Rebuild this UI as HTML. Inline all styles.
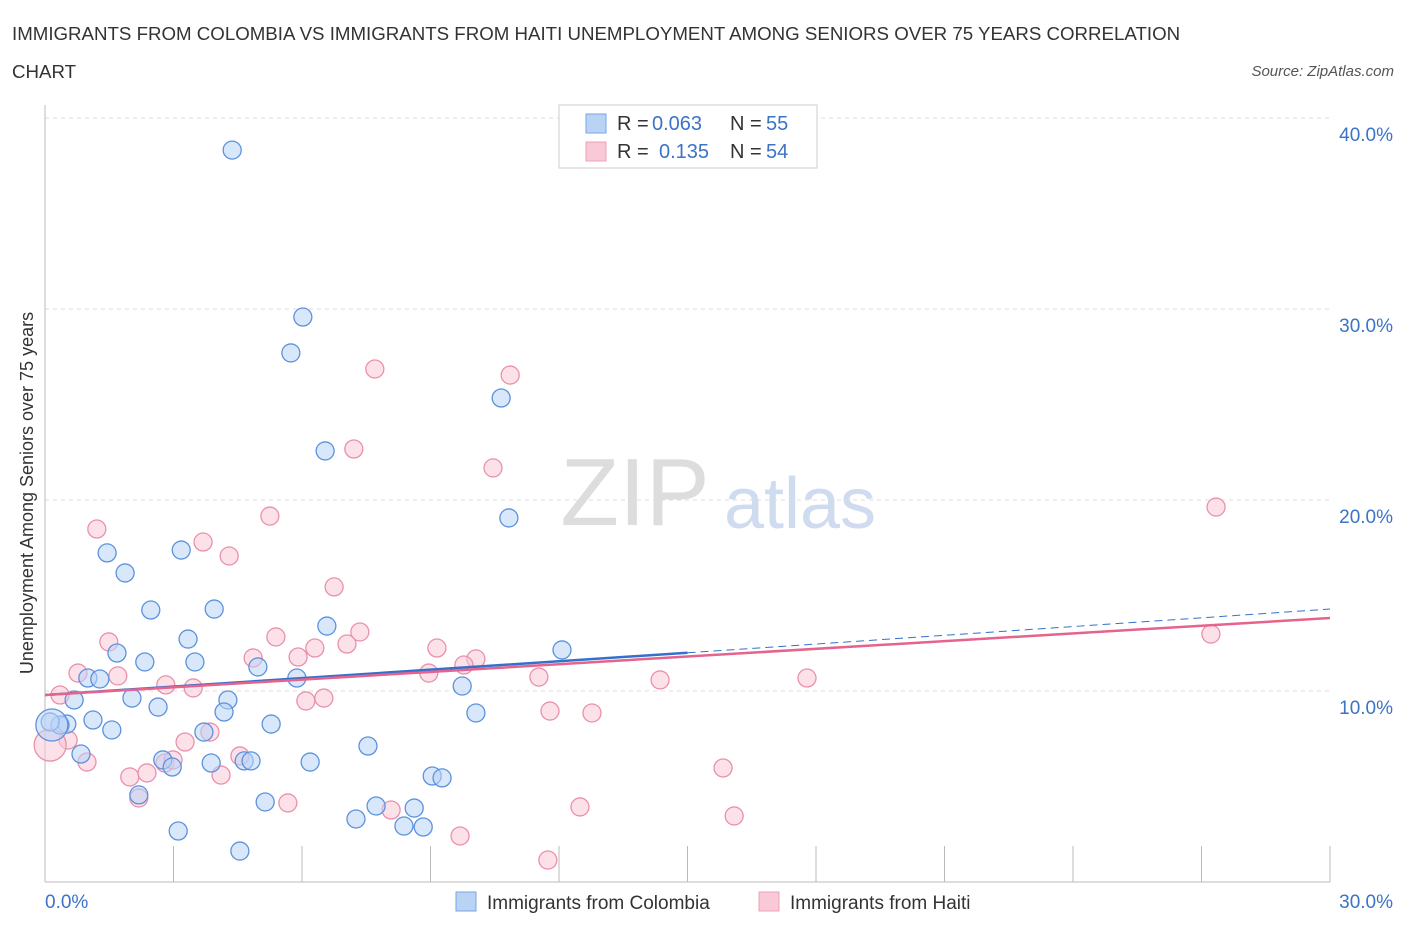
<!DOCTYPE html>
<html><head><meta charset="utf-8"><style>
body{margin:0;background:#fff;font-family:"Liberation Sans",sans-serif;}
svg text{font-family:"Liberation Sans",sans-serif;}
</style></head><body>
<svg id="chart" width="1406" height="930">
<text x="12" y="40" font-size="18.7" fill="#333">IMMIGRANTS FROM COLOMBIA VS IMMIGRANTS FROM HAITI UNEMPLOYMENT AMONG SENIORS OVER 75 YEARS CORRELATION</text>
<text x="12" y="78" font-size="18.7" fill="#333">CHART</text>
<text x="1394" y="76" font-size="15" fill="#555" font-style="italic" text-anchor="end">Source: ZipAtlas.com</text>
<text x="635" y="525" font-size="96" fill="#ddd" font-family="Liberation Serif" text-anchor="middle">ZIP</text>
<text x="800" y="528" font-size="72" fill="#cfdcf0" text-anchor="middle">atlas</text>
<g id="grid"></g><g id="axes"></g><g id="pts"></g><g id="lines"></g>
<text x="33" y="493" font-size="18" fill="#333" text-anchor="middle" transform="rotate(-90 33 493)">Unemployment Among Seniors over 75 years</text>
<g>
<rect x="559" y="105" width="258" height="63" fill="#fff" stroke="#ccc"/>
<rect x="586" y="114" width="20" height="19" fill="#b9d3f5" stroke="#7aa6e3"/>
<rect x="586" y="142" width="20" height="19" fill="#f9c9d7" stroke="#eda0b6"/>
<text x="617" y="130" font-size="20" fill="#333">R =</text>
<text x="652" y="130" font-size="20" fill="#3b73c7">0.063</text>
<text x="730" y="130" font-size="20" fill="#333">N =</text>
<text x="766" y="130" font-size="20" fill="#3b73c7">55</text>
<text x="617" y="158" font-size="20" fill="#333">R =</text>
<text x="659" y="158" font-size="20" fill="#3b73c7">0.135</text>
<text x="730" y="158" font-size="20" fill="#333">N =</text>
<text x="766" y="158" font-size="20" fill="#3b73c7">54</text>
</g>
<g>
<rect x="456" y="892" width="20" height="19" fill="#b9d3f5" stroke="#7aa6e3"/>
<text x="487" y="909" font-size="19" fill="#333">Immigrants from Colombia</text>
<rect x="759" y="892" width="20" height="19" fill="#f9c9d7" stroke="#eda0b6"/>
<text x="790" y="909" font-size="19" fill="#333">Immigrants from Haiti</text>
</g>
</svg>
<script>
const yTicks=[10,20,30,40];
const yTickLabels=["10.0%","20.0%","30.0%","40.0%"];
const xTickCount=10;
const colX=[4.37,6.02,5.74,10.65,6.54,10.83,1.45,1.87,3.18,2.47,3.95,3.34,6.58,12.07,1.68,2.33,3.50,4.97,1.00,1.28,5.88,9.74,0.68,2.03,4.27,2.64,4.18,10.06,1.12,0.51,0.35,0.12,5.28,1.56,3.71,7.54,0.84,2.75,2.97,3.88,4.65,4.81,6.19,9.04,9.27,2.19,5.14,7.73,8.62,7.26,8.38,8.83,3.11,4.55,0.16];
const colY=[38.32,29.58,27.70,25.34,22.57,19.06,17.23,16.18,17.38,14.24,14.29,12.72,13.40,12.15,11.99,11.52,11.52,11.26,10.68,10.63,10.68,10.26,9.53,9.63,9.53,9.16,8.90,8.85,8.48,8.27,8.22,8.38,8.27,7.96,7.85,7.12,6.70,6.39,6.02,6.23,6.34,6.34,6.28,5.55,5.45,4.56,4.19,3.98,3.87,3.30,2.93,2.88,2.67,1.62,8.22];
const haiX=[7.70,10.86,7.21,10.46,27.34,5.25,1.21,3.69,4.30,6.75,27.22,1.49,5.39,7.35,9.15,6.30,4.86,5.91,7.05,10.06,9.78,0.77,1.70,8.96,11.53,14.36,17.79,2.82,3.46,0.35,6.09,6.51,11.79,12.77,3.85,3.27,0.54,4.55,0.98,2.80,2.99,1.98,2.38,4.11,15.83,5.67,2.19,8.08,12.49,16.09,9.69,11.74,0.12];
const haiY=[26.86,26.54,22.67,21.68,19.63,19.16,18.48,17.80,17.07,15.45,12.98,12.57,12.83,13.09,12.25,12.25,11.73,11.78,12.46,11.68,11.36,10.94,10.79,10.94,10.73,10.58,10.68,10.32,10.16,9.79,9.48,9.63,8.95,8.85,7.85,7.33,7.43,6.60,6.28,6.23,6.39,5.50,5.71,5.60,5.97,4.14,4.40,3.77,3.93,3.46,2.41,1.15,7.17];
const colTrend=[9.79,12.0,14.29];
const haiTrend=[9.79,13.82];
const NS='http://www.w3.org/2000/svg';
const X=v=>45+v/30*1285, Y=v=>882-v/10*191;
function mk(t,a,p){const e=document.createElementNS(NS,t);for(const k in a)e.setAttribute(k,a[k]);document.getElementById(p).appendChild(e);return e;}
yTicks.forEach((t,i)=>{
 const g=mk('line',{x1:45,x2:1330,y1:Y(t),y2:Y(t),stroke:'#ddd','stroke-dasharray':'4,4'},'grid');
 
 
 const l=mk('text',{x:1393,y:Y(t)+23,'font-size':19,fill:'#3b73c7','text-anchor':'end'},'axes');l.textContent=yTickLabels[i];
 
 
});
const ax=mk('line',{x1:45,x2:45,y1:105,y2:882,stroke:'#bbb'},'axes');


const bx=mk('line',{x1:45,x2:1330,y1:882,y2:882,stroke:'#bbb'},'axes');


for(let i=0;i<=xTickCount;i++){const t=mk('line',{x1:X(i*3),x2:X(i*3),y1:846,y2:882,stroke:'#bbb'},'axes');
 
 }
[["0.0%",45,'start'],["30.0%",1393,'end']].forEach(a=>{const l=mk('text',{x:a[1],y:908,'font-size':19,fill:'#3b73c7','text-anchor':a[2]},'axes');l.textContent=a[0];
 
 });
function pts(xs,ys,fill,stroke,name){xs.forEach((x,i)=>{const big=i==xs.length-1;
 const c=mk('circle',{cx:X(x),cy:Y(ys[i]),r:big?16:9,fill:fill,'fill-opacity':0.55,stroke:stroke,'stroke-width':1.3},'pts');
 
 });}
pts(haiX,haiY,'#f9c9d7','#eb90aa','haiti-point');
pts(colX,colY,'#b9d3f5','#5c92dd','colombia-point');
let l1=mk('line',{x1:X(0),y1:Y(colTrend[0]),x2:X(15),y2:Y(colTrend[1]),stroke:'#3570cc','stroke-width':2.5},'lines');


let l2=mk('line',{x1:X(15),y1:Y(colTrend[1]),x2:X(30),y2:Y(colTrend[2]),stroke:'#3570cc','stroke-width':1,'stroke-dasharray':'8,5'},'lines');


let l3=mk('line',{x1:X(0),y1:Y(haiTrend[0]),x2:X(30),y2:Y(haiTrend[1]),stroke:'#e5638c','stroke-width':2.5},'lines');


</script>
</body></html>
